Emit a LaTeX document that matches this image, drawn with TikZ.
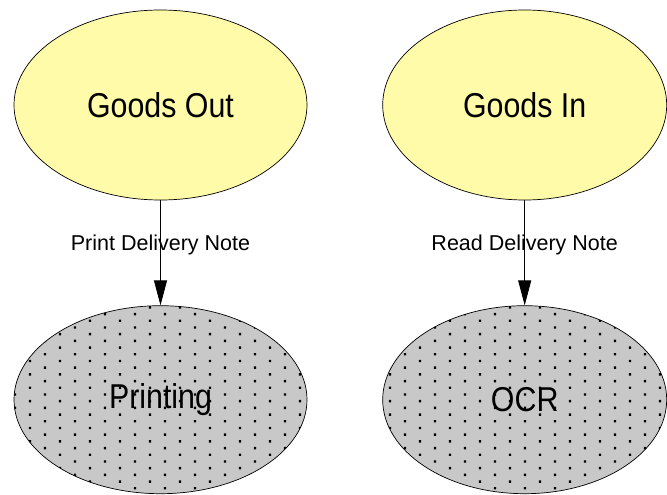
\documentclass[tikz,border=0pt]{standalone}
\usepackage{fontspec}
\setmainfont{Liberation Sans}
\newfontfamily\narrowsans[FakeStretch=0.88]{Liberation Sans}
\usetikzlibrary{arrows.meta,patterns,positioning,shapes}
\definecolor{noteyellow}{RGB}{255,251,168}
\definecolor{sysgrey}{RGB}{200,200,200}
\pgfdeclarepatternformonly{sparse dots}{\pgfqpoint{-1.2pt}{-1.2pt}}{\pgfqpoint{16.2pt}{7.9pt}}{\pgfqpoint{30pt}{13.4pt}}{
\pgfpathrectangle{\pgfqpoint{-1.2pt}{-1.2pt}}{\pgfqpoint{2.4pt}{2.4pt}}
\pgfpathrectangle{\pgfqpoint{13.8pt}{5.5pt}}{\pgfqpoint{2.4pt}{2.4pt}}
\pgfusepath{fill}
}
\tikzset{
dfd/.style={>={Triangle[length=25pt,width=13pt]},line width=0.8pt},
task/.style={ellipse,draw,line width=0.7pt,fill=noteyellow,minimum width=#1,
minimum height=190pt,inner sep=0pt,font=\narrowsans\fontsize{34.5}{40}\selectfont},
task/.default={293pt},
device/.style={ellipse,draw,line width=0.7pt,preaction={fill=sysgrey},pattern=sparse dots,
minimum width=#1,minimum height=188pt,inner sep=0pt,font=\narrowsans\fontsize{34.5}{40}\selectfont},
device/.default={293pt},
flowlabel/.style={font=\fontsize{21.5}{25}\selectfont,inner sep=0pt},
}
\begin{document}
\begin{tikzpicture}[dfd]
                    \useasboundingbox (0pt,0pt) rectangle (667pt,-495pt);
                    \node[task] (out) at (160.5pt,-105pt) {Goods Out};
                    \node[task=284pt] (in) [right=75pt of out] {Goods In};
                    \node[device] (print) [below=105pt of out] {Printing};
                    \node[device=284pt] (ocr) [below=105pt of in] {OCR};
                    
                    \path[->] (out) edge node[flowlabel,pos=0.42] {Print Delivery Note} (print);
                    \path[->] (in) edge node[flowlabel,pos=0.42] {Read Delivery Note} (ocr);
                \end{tikzpicture}
\end{document}
